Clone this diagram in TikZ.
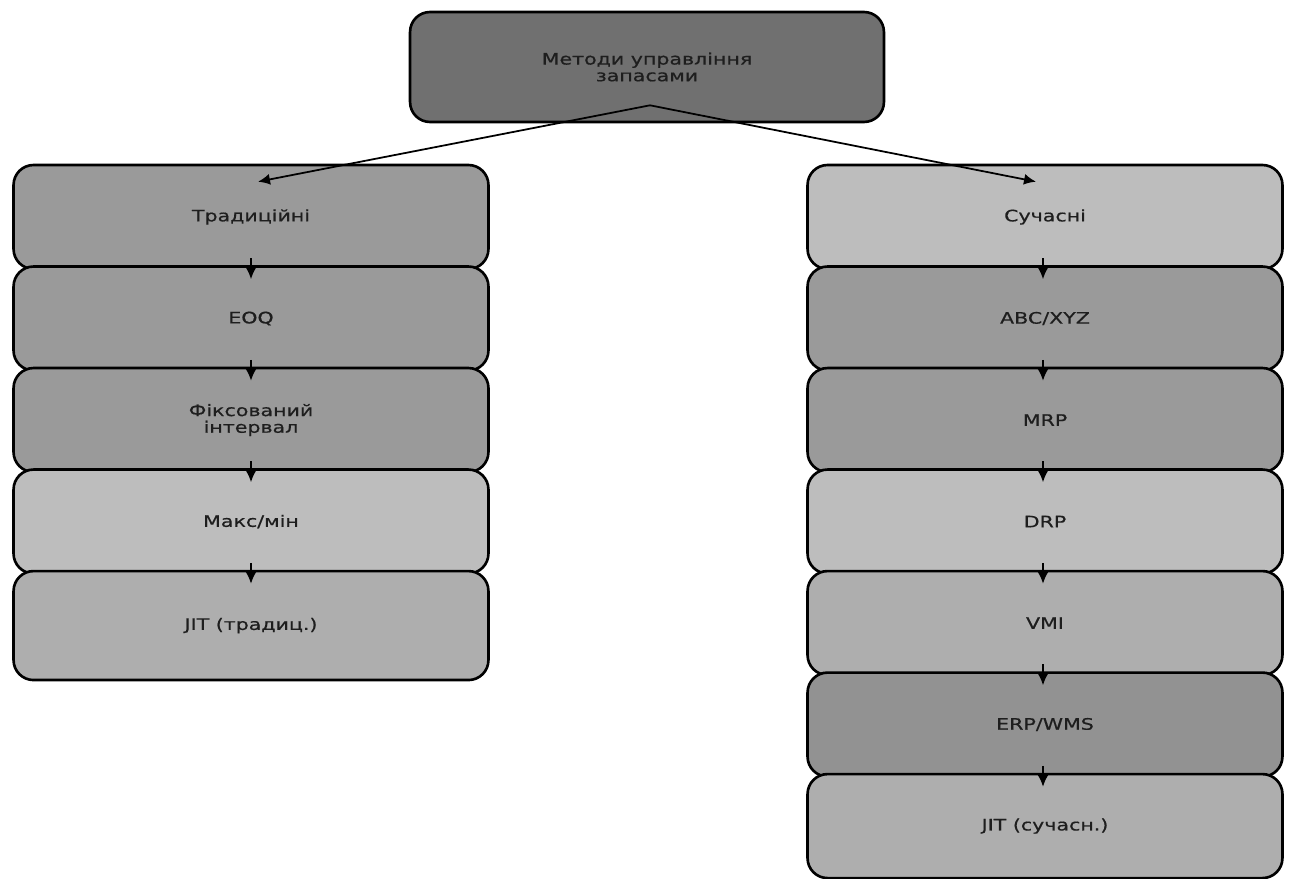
\documentclass[tikz,border=0pt]{standalone}
\usepackage{fontspec}
\newfontfamily\boxfont[FakeStretch=1.3,FakeBold=0.6]{DejaVu Sans}
\usepackage{tikz}
\usetikzlibrary{arrows.meta,positioning,calc}
\definecolor{topgray}{RGB}{112,112,112}
\definecolor{gdark}{RGB}{146,146,146}
\definecolor{gmid}{RGB}{154,154,154}
\definecolor{gsoft}{RGB}{174,174,174}
\definecolor{glight}{RGB}{189,189,189}
\definecolor{txtgray}{RGB}{30,30,30}

\begin{document}
\begin{tikzpicture}[
  x=0.02cm,y=-0.02cm,
  font=\boxfont\fontsize{9}{9.5}\selectfont,
  node distance=-0.102cm,
  box/.style={draw=black,line width=1.5pt,rounded corners=0.4cm,align=center,
    text=txtgray,minimum width=9.5cm,minimum height=2.08cm},
  topbox/.style={box,fill=topgray,minimum width=9.48cm,minimum height=2.2cm},
  arrow/.style={-{Latex[length=2.4mm,width=2.2mm]},line width=1pt,black}
]
\useasboundingbox (0,0) rectangle (1289,879);
% root
\node[topbox] (root) at (647,67) {Методи управління\\запасами};
% traditional branch
\node[box,fill=gmid] (trad) at (251,217) {Традиційні};
\node[box,fill=gmid,below=of trad] (eoq) {EOQ};
\node[box,fill=gmid,below=of eoq] (fixint) {Фіксований\\інтервал};
\node[box,fill=glight,below=of fixint] (maxmin) {Макс/мін};
\node[box,fill=gsoft,below=of maxmin,minimum height=2.18cm] (jittrad) {JIT (традиц.)};
% modern branch
\node[box,fill=glight] (modern) at (1045,217) {Сучасні};
\node[box,fill=gmid,below=of modern] (abc) {ABC/XYZ};
\node[box,fill=gmid,below=of abc] (mrp) {MRP};
\node[box,fill=glight,below=of mrp] (drp) {DRP};
\node[box,fill=gsoft,below=of drp] (vmi) {VMI};
\node[box,fill=gdark,below=of vmi] (erp) {ERP/WMS};
\node[box,fill=gsoft,below=of erp] (jitmod) {JIT (сучасн.)};

\coordinate (split) at ($(root.south)+(3,-18)$);
\draw[arrow] (split) -- ($(trad.north)+(7,18)$);
\draw[arrow] (split) -- ($(modern.north)+(-9,18)$);

\draw[arrow] ($(trad.south)+(0,-12)$) -- ($(eoq.north)+(0,14)$);
\draw[arrow] ($(eoq.south)+(0,-12)$) -- ($(fixint.north)+(0,14)$);
\draw[arrow] ($(fixint.south)+(0,-12)$) -- ($(maxmin.north)+(0,14)$);
\draw[arrow] ($(maxmin.south)+(0,-12)$) -- ($(jittrad.north)+(0,14)$);

\draw[arrow] ($(modern.south)+(-2,-12)$) -- ($(abc.north)+(-2,14)$);
\draw[arrow] ($(abc.south)+(-2,-12)$) -- ($(mrp.north)+(-2,14)$);
\draw[arrow] ($(mrp.south)+(-2,-12)$) -- ($(drp.north)+(-2,14)$);
\draw[arrow] ($(drp.south)+(-2,-12)$) -- ($(vmi.north)+(-2,14)$);
\draw[arrow] ($(vmi.south)+(-2,-12)$) -- ($(erp.north)+(-2,14)$);
\draw[arrow] ($(erp.south)+(-2,-12)$) -- ($(jitmod.north)+(-2,14)$);
\end{tikzpicture}
\end{document}
